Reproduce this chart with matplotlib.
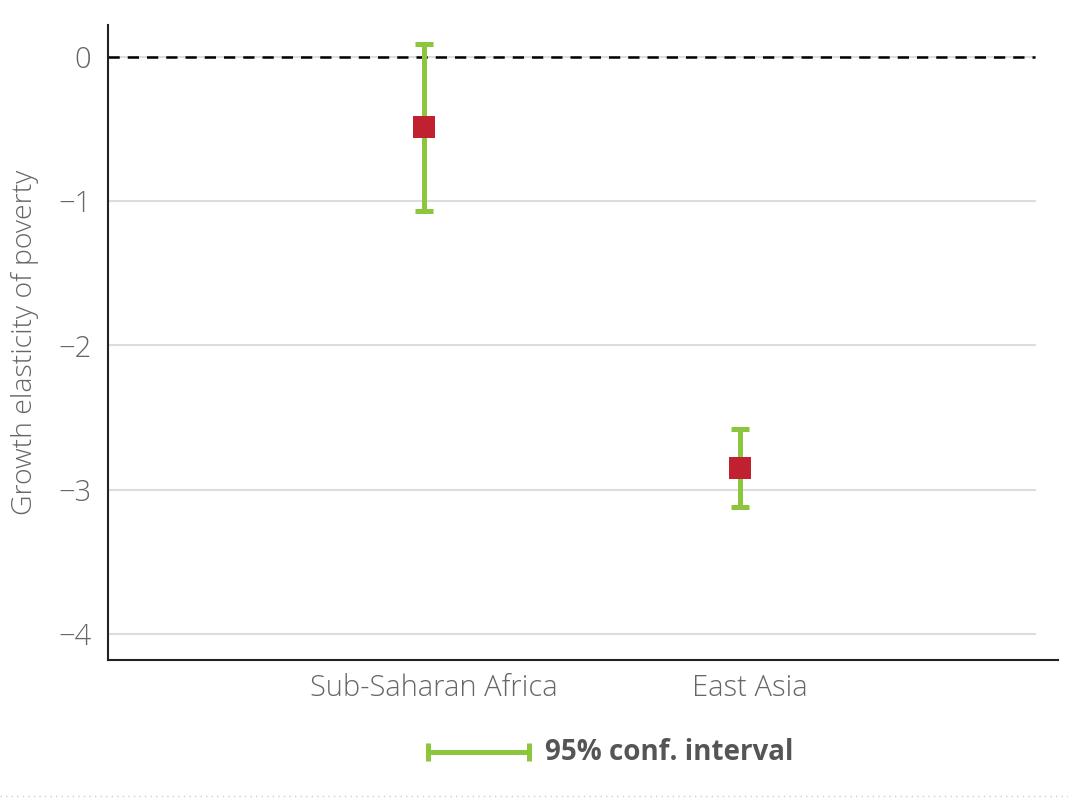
import matplotlib
matplotlib.use("Agg")
import matplotlib.pyplot as plt
from matplotlib.lines import Line2D

# Estimates of the growth elasticity of poverty with 95% confidence intervals
regions = ["Sub-Saharan Africa", "East Asia"]
estimate = [-0.49, -2.85]
ci_low = [-1.07, -3.12]
ci_high = [0.09, -2.58]
yticks = [0, -1, -2, -3, -4]

GREEN = "#8cc63f"
RED = "#c0202f"
GRAY = "#666666"

plt.rcParams["font.family"] = ["Open Sans", "DejaVu Sans"]

fig = plt.figure(figsize=(10.68, 7.98), dpi=100)
ax = fig.add_axes([0.1011, 0.1729, 0.8895, 0.7958])

x = list(range(len(regions)))

# light horizontal grid lines
for t in yticks:
    ax.axhline(t, xmin=0, xmax=0.976, color="#dddddd", lw=1.5, zorder=0)

# reference line at zero
ax.axhline(0, xmin=0, xmax=0.976, color="black", lw=1.8,
           ls=(0, (4.5, 3.2)), zorder=1)

lower = [e - l for e, l in zip(estimate, ci_low)]
upper = [h - e for e, h in zip(estimate, ci_high)]
eb = ax.errorbar(x, estimate, yerr=[lower, upper], fmt="none", ecolor=GREEN,
                 elinewidth=3.6, capsize=6.5, capthick=3.6, zorder=2)
for cap in eb[1]:
    cap.set_solid_capstyle("round")
ax.scatter(x, estimate, marker="s", s=250, color=RED, zorder=3, linewidths=0)

ax.set_xlim(-1.0, 2.006)
ax.set_ylim(-4.18, 0.22)
ax.set_yticks(yticks)
ax.set_yticklabels(["0", "\u22121", "\u22122", "\u22123", "\u22124"])
ax.set_xticks([i + 0.03 for i in x])
ax.set_xticklabels(regions)
ax.tick_params(axis="y", length=0, labelsize=21, labelcolor=GRAY, pad=12)
ax.tick_params(axis="x", length=0, labelsize=21, labelcolor=GRAY, pad=10)
for lab in ax.get_xticklabels() + ax.get_yticklabels():
    lab.set_fontweight("light")

ax.set_ylabel("Growth elasticity of poverty", fontsize=20.5, color=GRAY,
              labelpad=14, fontweight="light")

for side in ("top", "right"):
    ax.spines[side].set_visible(False)
for side in ("left", "bottom"):
    ax.spines[side].set_color("#222222")
    ax.spines[side].set_linewidth(1.5)

# legend below the axes: an interval glyph and its label
ly = 1 - 752 / 798
fig.add_artist(Line2D([428 / 1068, 529 / 1068], [ly, ly], transform=fig.transFigure,
                      color=GREEN, lw=3.6, solid_capstyle="butt"))
fig.add_artist(Line2D([428 / 1068, 529 / 1068], [ly, ly], transform=fig.transFigure,
                      ls="none", marker="|", markersize=13, markeredgewidth=3.6,
                      color=GREEN))
fig.text(545 / 1068, ly, "95% conf. interval", fontsize=20, fontweight="bold",
         color="#555555", ha="left", va="center")

# dotted separator at the bottom
fig.add_artist(Line2D([0, 1], [0.003, 0.003], transform=fig.transFigure,
                      color="#cccccc", lw=1, ls=(0, (1, 3))))

fig.savefig("out.png", dpi=100)
